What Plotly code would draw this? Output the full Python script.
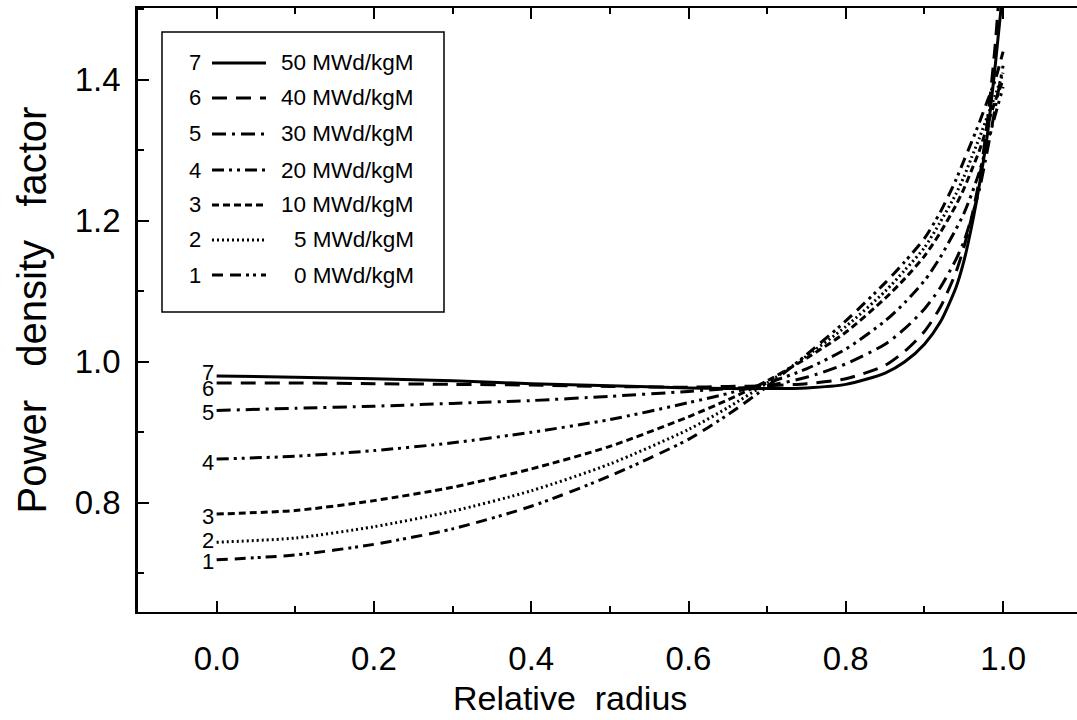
import plotly.graph_objects as go

# ---------------- data ----------------
radius = [0.0, 0.1, 0.2, 0.3, 0.4, 0.5, 0.6, 0.65, 0.7, 0.75, 0.8, 0.85,
          0.875, 0.9, 0.92, 0.94, 0.95, 0.96, 0.97, 0.98, 0.99, 1.0]

curve_ids = ["1", "2", "3", "4", "5", "6", "7"]
burnup_labels = ["0 MWd/kgM", "5 MWd/kgM", "10 MWd/kgM", "20 MWd/kgM",
                 "30 MWd/kgM", "40 MWd/kgM", "50 MWd/kgM"]

pdf_0 = [0.719, 0.726, 0.741, 0.763, 0.795, 0.838, 0.890, 0.925, 0.965, 1.010,
         1.058, 1.112, 1.142, 1.175, 1.212, 1.258, 1.285, 1.312, 1.340, 1.370, 1.400, 1.440]
pdf_5 = [0.744, 0.750, 0.766, 0.788, 0.817, 0.855, 0.904, 0.935, 0.970, 1.008,
         1.050, 1.100, 1.130, 1.162, 1.198, 1.238, 1.262, 1.290, 1.318, 1.348, 1.378, 1.410]
pdf_10 = [0.784, 0.789, 0.803, 0.822, 0.848, 0.880, 0.922, 0.946, 0.973, 1.005,
          1.042, 1.090, 1.118, 1.150, 1.183, 1.222, 1.245, 1.272, 1.300, 1.335, 1.370, 1.400]
pdf_20 = [0.862, 0.866, 0.874, 0.885, 0.900, 0.918, 0.942, 0.955, 0.970, 0.990,
          1.018, 1.058, 1.084, 1.115, 1.148, 1.188, 1.210, 1.238, 1.270, 1.310, 1.350, 1.390]
pdf_30 = [0.931, 0.934, 0.937, 0.941, 0.945, 0.951, 0.958, 0.962, 0.966, 0.978,
          0.997, 1.025, 1.047, 1.075, 1.105, 1.145, 1.170, 1.205, 1.245, 1.300, 1.360, 1.420]
pdf_40 = [0.970, 0.970, 0.969, 0.968, 0.967, 0.965, 0.964, 0.965, 0.966, 0.969,
          0.976, 0.995, 1.015, 1.043, 1.077, 1.127, 1.162, 1.205, 1.260, 1.340, 1.450, 1.600]
pdf_50 = [0.980, 0.978, 0.976, 0.973, 0.969, 0.966, 0.963, 0.962, 0.962, 0.963,
          0.968, 0.984, 1.000, 1.025, 1.056, 1.105, 1.142, 1.192, 1.252, 1.322, 1.420, 1.530]

series = [pdf_0, pdf_5, pdf_10, pdf_20, pdf_30, pdf_40, pdf_50]

x_ticks = [0.0, 0.2, 0.4, 0.6, 0.8, 1.0]
y_ticks = [0.8, 1.0, 1.2, 1.4]

# ---------------- styles ----------------
dashes = [
    "11px,7px,11px,5px,3px,4px,3px,5px",   # 1
    "2px,3px",                             # 2
    "7px,4px",                             # 3
    "12px,5px,3px,5px,3px,5px",            # 4
    "14px,6px,3px,6px",                    # 5
    "15px,9px",                            # 6
    "solid",                               # 7
]
LW = 3
FONT = "Liberation Sans, Arial, sans-serif"

W, H = 1077, 720
ML, MR, MT, MB = 138, 0, 8, 108
PW, PH = W - ML - MR, H - MT - MB


def px(xp):
    return (xp - ML) / PW


def py(yp):
    return (H - MB - yp) / PH


fig = go.Figure()
for vals, dash in zip(series, dashes):
    fig.add_trace(go.Scatter(
        x=radius, y=vals, mode="lines",
        line=dict(color="black", width=LW, dash=dash, shape="spline", smoothing=0.7),
        showlegend=False, hoverinfo="skip",
    ))

# curve number labels at the start of each curve
label_shift = [-2, 2, -2, -3, -2, -6, 3]
for cid, vals, sh in zip(curve_ids, series, label_shift):
    fig.add_annotation(x=radius[0], y=vals[0], text=cid, showarrow=False,
                       xanchor="right", yanchor="middle", xshift=-1, yshift=sh,
                       font=dict(family=FONT, size=22, color="black"))

# hand-made legend (number, sample line, label), 7 at top
row_y = [275, 240, 205, 170, 134, 98, 63]  # pixel rows for curves 1..7
shapes = [dict(type="rect", xref="paper", yref="paper",
               x0=px(162), x1=px(444), y0=py(312), y1=py(32),
               line=dict(color="black", width=1.5), fillcolor="white", layer="above")]
for cid, lab, dash, ry in zip(curve_ids, burnup_labels, dashes, row_y):
    shapes.append(dict(type="line", xref="paper", yref="paper",
                       x0=px(212), x1=px(266), y0=py(ry), y1=py(ry),
                       line=dict(color="black", width=LW, dash=dash), layer="above"))
    fig.add_annotation(xref="paper", yref="paper", x=px(203), y=py(ry), text=cid,
                       showarrow=False, xanchor="right", yanchor="middle",
                       font=dict(family=FONT, size=22, color="black"))
    fig.add_annotation(xref="paper", yref="paper", x=px(416), y=py(ry), text=lab,
                       showarrow=False, xanchor="right", yanchor="middle",
                       font=dict(family=FONT, size=22.5, color="black"))

# x axis title (placed like the reference, left of the plot centre)
fig.add_annotation(xref="paper", yref="paper", x=px(570), y=py(698),
                   text="Relative\u00a0 radius", showarrow=False,
                   xanchor="center", yanchor="middle",
                   font=dict(family=FONT, size=34, color="black"))

fig.update_layout(
    width=W, height=H,
    margin=dict(l=ML, r=MR, t=MT, b=MB, autoexpand=False),
    paper_bgcolor="white", plot_bgcolor="white",
    shapes=shapes,
    font=dict(family=FONT, color="black"),
    showlegend=False,
)

fig.update_xaxes(
    range=[-0.1, 1.094], tickvals=x_ticks, ticktext=[f"{v:.1f}" for v in x_ticks],
    ticks="inside", ticklen=11, tickwidth=2, tickcolor="black",
    minor=dict(dtick=0.1, tick0=0, ticks="inside", ticklen=6, tickwidth=1.5, tickcolor="black"),
    showline=True, linecolor="black", linewidth=2, mirror="ticks",
    showgrid=False, zeroline=False,
    tickfont=dict(family=FONT, size=33, color="black"), ticklabelstandoff=16,
)
fig.update_yaxes(
    range=[0.645, 1.502], tickvals=y_ticks, ticktext=[f"{v:.1f}" for v in y_ticks],
    ticks="inside", ticklen=11, tickwidth=2, tickcolor="black",
    minor=dict(dtick=0.1, tick0=0.7, ticks="inside", ticklen=6, tickwidth=1.5, tickcolor="black"),
    showline=True, linecolor="black", linewidth=2.5,
    showgrid=False, zeroline=False,
    tickfont=dict(family=FONT, size=33, color="black"), ticklabelstandoff=8,
    title=dict(text="Power\u00a0\u00a0 density\u00a0\u00a0 factor",
               font=dict(family=FONT, size=40, color="black"), standoff=16),
)

fig.write_html("out.html", config={"displayModeBar": False},
               post_script="document.body.style.margin='0';document.body.style.overflow='hidden';")
